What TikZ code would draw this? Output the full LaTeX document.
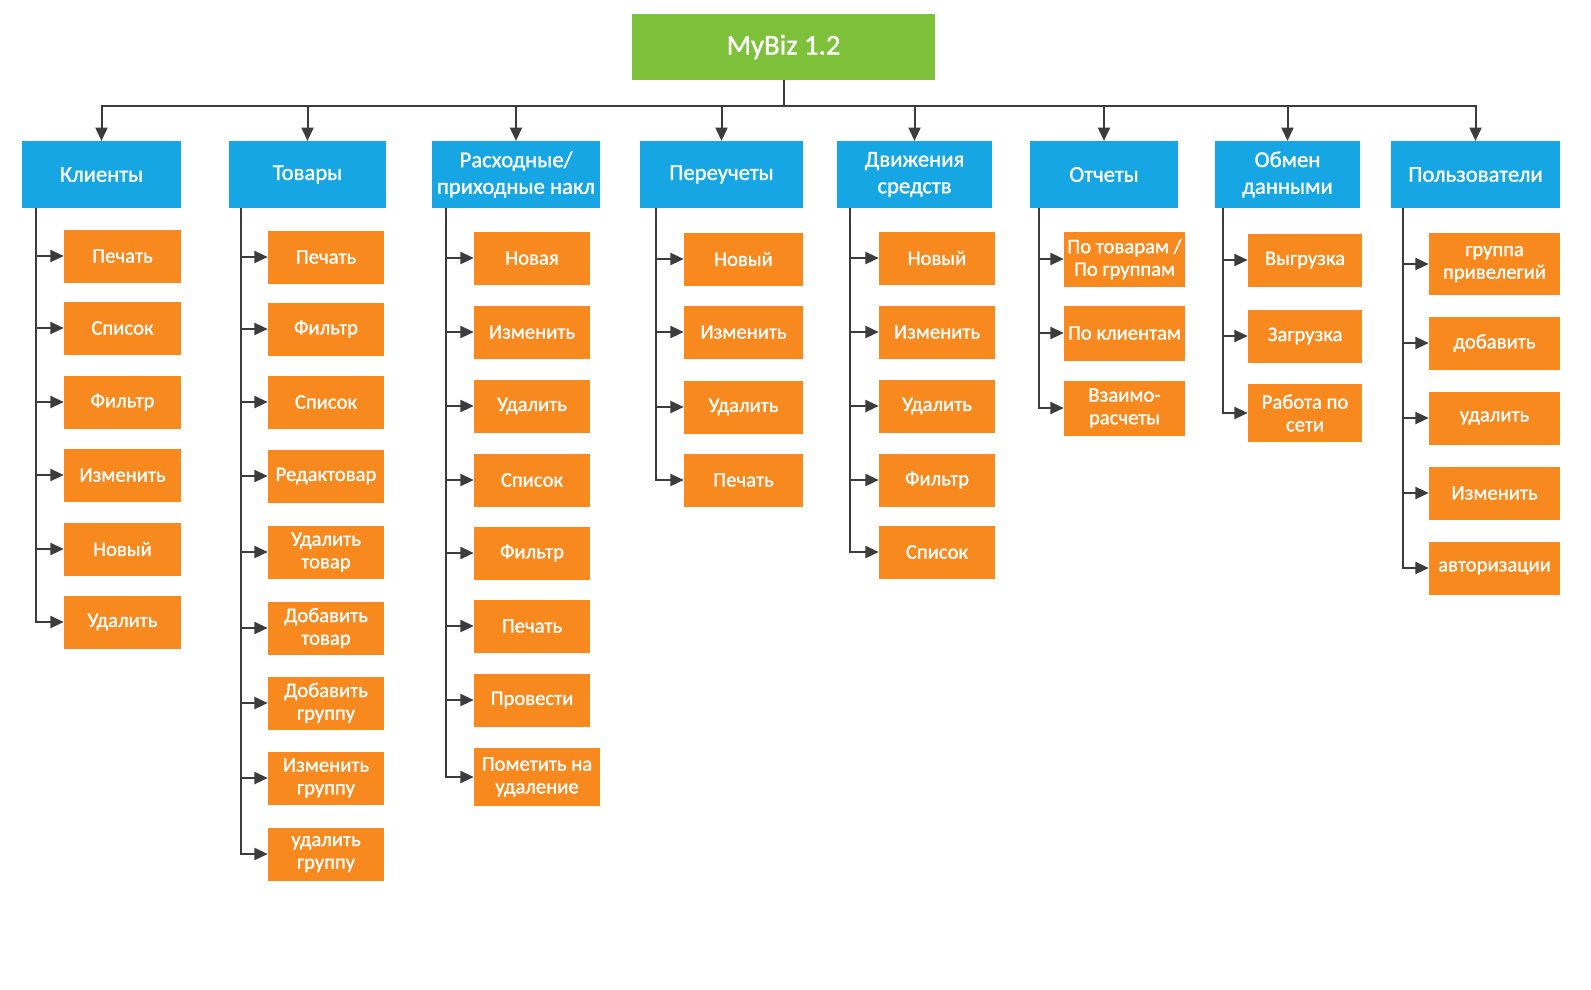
\documentclass[tikz,border=0pt]{standalone}
\usepackage{fontspec}
\setmainfont{Carlito}[FakeBold=1.2]
\usetikzlibrary{arrows.meta,calc,positioning}
\definecolor{rootgreen}{RGB}{125,193,58}
\definecolor{headblue}{RGB}{22,166,228}
\definecolor{leaforange}{RGB}{247,137,30}
\definecolor{linkgray}{RGB}{60,60,60}
\tikzset{
  root/.style={fill=rootgreen, text=white, minimum width=227pt, minimum height=49.5pt, font=\fontsize{21.5}{24}\selectfont},
  head/.style={fill=headblue, text=white, minimum height=50pt, align=center, inner sep=2pt, font=\fontsize{17}{20}\selectfont},
  leaf/.style={fill=leaforange, text=white, minimum height=39.75pt, align=center, inner sep=2pt, font=\fontsize{15.5}{17}\selectfont},
  wire/.style={line width=1.5pt, draw=linkgray},
  sig/.style={-{Triangle[length=10pt,width=9pt]}, line width=1.5pt, draw=linkgray}
}

\begin{document}
\begin{tikzpicture}[x=0.75pt, y=-0.75pt]
  \useasboundingbox (0,0) rectangle (1591,989);
  \fill[white] (0,0) rectangle (1591,989);

  \node[root] (root) at (783.5,47) {MyBiz 1.2};
  \coordinate (bus) at ($(root.south)+(0,25.5)$);

  \node[head, minimum width=119.25pt] (kl) at (101.5,174.5) {Клиенты};
  \node[head, minimum width=117.75pt] (tv) at (307.5,174.5) {Товары};
  \node[head, minimum width=126pt] (rs) at (516,174.5) {Расходные/\\приходные накл};
  \node[head, minimum width=122.25pt] (pr) at (721.5,174.5) {Переучеты};
  \node[head, minimum width=116.25pt] (dv) at (914.5,174.5) {Движения\\средств};
  \node[head, minimum width=111pt] (ot) at (1104,174.5) {Отчеты};
  \node[head, minimum width=108.75pt] (ob) at (1287.5,174.5) {Обмен\\данными};
  \node[head, minimum width=126.75pt] (pl) at (1475.5,174.5) {Пользователи};

  \draw[wire] (root.south) -- (bus);
  \draw[sig] (bus) -| (kl);
  \draw[sig] (bus) -| (tv);
  \draw[sig] (bus) -| (rs);
  \draw[sig] (bus) -| (pr);
  \draw[sig] (bus) -| (dv);
  \draw[sig] (bus) -| (ot);
  \draw[sig] (bus) -| (ob);
  \draw[sig] (bus) -| (pl);

  \node[leaf, minimum width=87.75pt] (kl1) at (122.5,256) {Печать};
  \node[leaf, minimum width=87.75pt] (kl2) at (122.5,328) {Список};
  \node[leaf, minimum width=87.75pt] (kl3) at (122.5,402) {Фильтр};
  \node[leaf, minimum width=87.75pt] (kl4) at (122.5,475) {Изменить};
  \node[leaf, minimum width=87.75pt] (kl5) at (122.5,549) {Новый};
  \node[leaf, minimum width=87.75pt] (kl6) at (122.5,622) {Удалить};

  \node[leaf, minimum width=87pt] (tv1) at (326,257) {Печать};
  \node[leaf, minimum width=87pt] (tv2) at (326,329) {Фильтр};
  \node[leaf, minimum width=87pt] (tv3) at (326,402) {Список};
  \node[leaf, minimum width=87pt] (tv4) at (326,476) {Редактовар};
  \node[leaf, minimum width=87pt] (tv5) at (326,552) {Удалить\\товар};
  \node[leaf, minimum width=87pt] (tv6) at (326,628) {Добавить\\товар};
  \node[leaf, minimum width=87pt] (tv7) at (326,703) {Добавить\\группу};
  \node[leaf, minimum width=87pt] (tv8) at (326,778) {Изменить\\группу};
  \node[leaf, minimum width=87pt] (tv9) at (326,854) {удалить\\группу};

  \node[leaf, minimum width=87pt] (rs1) at (532,258) {Новая};
  \node[leaf, minimum width=87pt] (rs2) at (532,332) {Изменить};
  \node[leaf, minimum width=87pt] (rs3) at (532,406) {Удалить};
  \node[leaf, minimum width=87pt] (rs4) at (532,480) {Список};
  \node[leaf, minimum width=87pt] (rs5) at (532,553) {Фильтр};
  \node[leaf, minimum width=87pt] (rs6) at (532,626) {Печать};
  \node[leaf, minimum width=87pt] (rs7) at (532,700) {Провести};
  \node[leaf, minimum width=94.5pt, minimum height=44pt] (rs8) at (537,777) {Пометить на\\удаление};

  \node[leaf, minimum width=89.25pt] (pr1) at (743.5,259) {Новый};
  \node[leaf, minimum width=89.25pt] (pr2) at (743.5,332) {Изменить};
  \node[leaf, minimum width=89.25pt] (pr3) at (743.5,407) {Удалить};
  \node[leaf, minimum width=89.25pt] (pr4) at (743.5,480) {Печать};

  \node[leaf, minimum width=87pt] (dv1) at (937,258) {Новый};
  \node[leaf, minimum width=87pt] (dv2) at (937,332) {Изменить};
  \node[leaf, minimum width=87pt] (dv3) at (937,406) {Удалить};
  \node[leaf, minimum width=87pt] (dv4) at (937,480) {Фильтр};
  \node[leaf, minimum width=87pt] (dv5) at (937,552) {Список};

  \node[leaf, minimum width=90.75pt, minimum height=41.25pt] (ot1) at (1124.5,259) {По товарам /\\По группам};
  \node[leaf, minimum width=90.75pt, minimum height=41.25pt] (ot2) at (1124.5,333) {По клиентам};
  \node[leaf, minimum width=90.75pt, minimum height=41.25pt] (ot3) at (1124.5,408) {Взаимо-\\расчеты};

  \node[leaf, minimum width=85.5pt] (ob1) at (1305,260) {Выгрузка};
  \node[leaf, minimum width=85.5pt] (ob2) at (1305,336) {Загрузка};
  \node[leaf, minimum width=85.5pt, minimum height=44pt] (ob3) at (1305,413) {Работа по\\сети};

  \node[leaf, minimum width=98.25pt, minimum height=46pt] (pl1) at (1494.5,264) {группа\\привелегий};
  \node[leaf, minimum width=98.25pt] (pl2) at (1494.5,343) {добавить};
  \node[leaf, minimum width=98.25pt] (pl3) at (1494.5,418) {удалить};
  \node[leaf, minimum width=98.25pt] (pl4) at (1494.5,493) {Изменить};
  \node[leaf, minimum width=98.25pt] (pl5) at (1494.5,568) {авторизации};

  \coordinate (klt) at ($(kl.south west)+(14.5,0)$);
  \coordinate (tvt) at ($(tv.south west)+(12.5,0)$);
  \coordinate (rst) at ($(rs.south west)+(14.5,0)$);
  \coordinate (prt) at ($(pr.south west)+(16.5,0)$);
  \coordinate (dvt) at ($(dv.south west)+(13,0)$);
  \coordinate (ott) at ($(ot.south west)+(9,0)$);
  \coordinate (obt) at ($(ob.south west)+(8,0)$);
  \coordinate (plt) at ($(pl.south west)+(12,0)$);

  \draw[sig] (klt) |- (kl1);
  \draw[sig] (klt) |- (kl2);
  \draw[sig] (klt) |- (kl3);
  \draw[sig] (klt) |- (kl4);
  \draw[sig] (klt) |- (kl5);
  \draw[sig] (klt) |- (kl6);

  \draw[sig] (tvt) |- (tv1);
  \draw[sig] (tvt) |- (tv2);
  \draw[sig] (tvt) |- (tv3);
  \draw[sig] (tvt) |- (tv4);
  \draw[sig] (tvt) |- (tv5);
  \draw[sig] (tvt) |- (tv6);
  \draw[sig] (tvt) |- (tv7);
  \draw[sig] (tvt) |- (tv8);
  \draw[sig] (tvt) |- (tv9);

  \draw[sig] (rst) |- (rs1);
  \draw[sig] (rst) |- (rs2);
  \draw[sig] (rst) |- (rs3);
  \draw[sig] (rst) |- (rs4);
  \draw[sig] (rst) |- (rs5);
  \draw[sig] (rst) |- (rs6);
  \draw[sig] (rst) |- (rs7);
  \draw[sig] (rst) |- (rs8);

  \draw[sig] (prt) |- (pr1);
  \draw[sig] (prt) |- (pr2);
  \draw[sig] (prt) |- (pr3);
  \draw[sig] (prt) |- (pr4);

  \draw[sig] (dvt) |- (dv1);
  \draw[sig] (dvt) |- (dv2);
  \draw[sig] (dvt) |- (dv3);
  \draw[sig] (dvt) |- (dv4);
  \draw[sig] (dvt) |- (dv5);

  \draw[sig] (ott) |- (ot1);
  \draw[sig] (ott) |- (ot2);
  \draw[sig] (ott) |- (ot3);

  \draw[sig] (obt) |- (ob1);
  \draw[sig] (obt) |- (ob2);
  \draw[sig] (obt) |- (ob3);

  \draw[sig] (plt) |- (pl1);
  \draw[sig] (plt) |- (pl2);
  \draw[sig] (plt) |- (pl3);
  \draw[sig] (plt) |- (pl4);
  \draw[sig] (plt) |- (pl5);
\end{tikzpicture}
\end{document}
